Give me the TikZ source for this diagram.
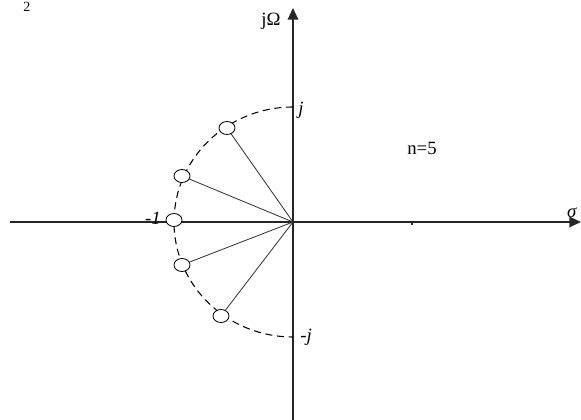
\documentclass[tikz,border=0pt]{standalone}
\usepackage{fontspec}
\setmainfont{Liberation Serif}
\usetikzlibrary{arrows.meta}
\usetikzlibrary{shapes.geometric}
\colorlet{axisline}{black!85}

\begin{document}
\begin{tikzpicture}[x=0.03cm,y=0.03cm,
        font=\fontsize{16}{19}\selectfont,
        axis/.style={axisline, line width=1.4pt},
        spoke/.style={black!80, line width=0.7pt},
        pole/.style={draw, ellipse, fill=white, inner sep=0pt,
            minimum width=0.48cm, minimum height=0.39cm, line width=0.7pt}]
        \useasboundingbox (-293,-198) rectangle (288,222);
        % coordinates
        \coordinate (O) at (0,0);
        \coordinate (W) at (-283,0);
        \coordinate (E) at (288,0);
        \coordinate (S) at (0,-198);
        \coordinate (N) at (0,214);
        % axes
        \draw[axis][-{Triangle[length=10pt, width=9pt]}] (W) -- (E);
        \draw[axis][-{Triangle[length=10pt, width=9pt]}] (S) -- (N);
        \draw[axis] (119,0) -- (119,-3);
        % unit circle (left half)
        \draw[dashed, dash pattern=on 6pt off 4pt, line width=0.9pt]
            (0,115) arc[start angle=270, end angle=90, x radius=119, y radius=-115];
        % poles
        \foreach \x/\y [count=\i] in {-66/94, -111/46, -119/2, -111/-43, -72/-94}
        {
            \node[pole] (p\i) at (\x,\y) {};
        }
        \foreach \i in {1,2,4,5}
        {
            \draw[spoke] (O) -- (p\i);
        }
        % labels
        \node (jOmega) at (-22,201) {jΩ};
        \node (sigma) at (279,9) {\textit{σ}};
        \node (jpos) at (8,112) {\textit{j}};
        \node (jneg) at (13,-115) {\textit{-j}};
        \node (mone) at (-140,4) {\textit{-1}};
        \node (order) at (129,74) {n=5};
        \node[font=\fontsize{12}{14}\selectfont] (frag) at (-266,215) {2};
\end{tikzpicture}
\end{document}
